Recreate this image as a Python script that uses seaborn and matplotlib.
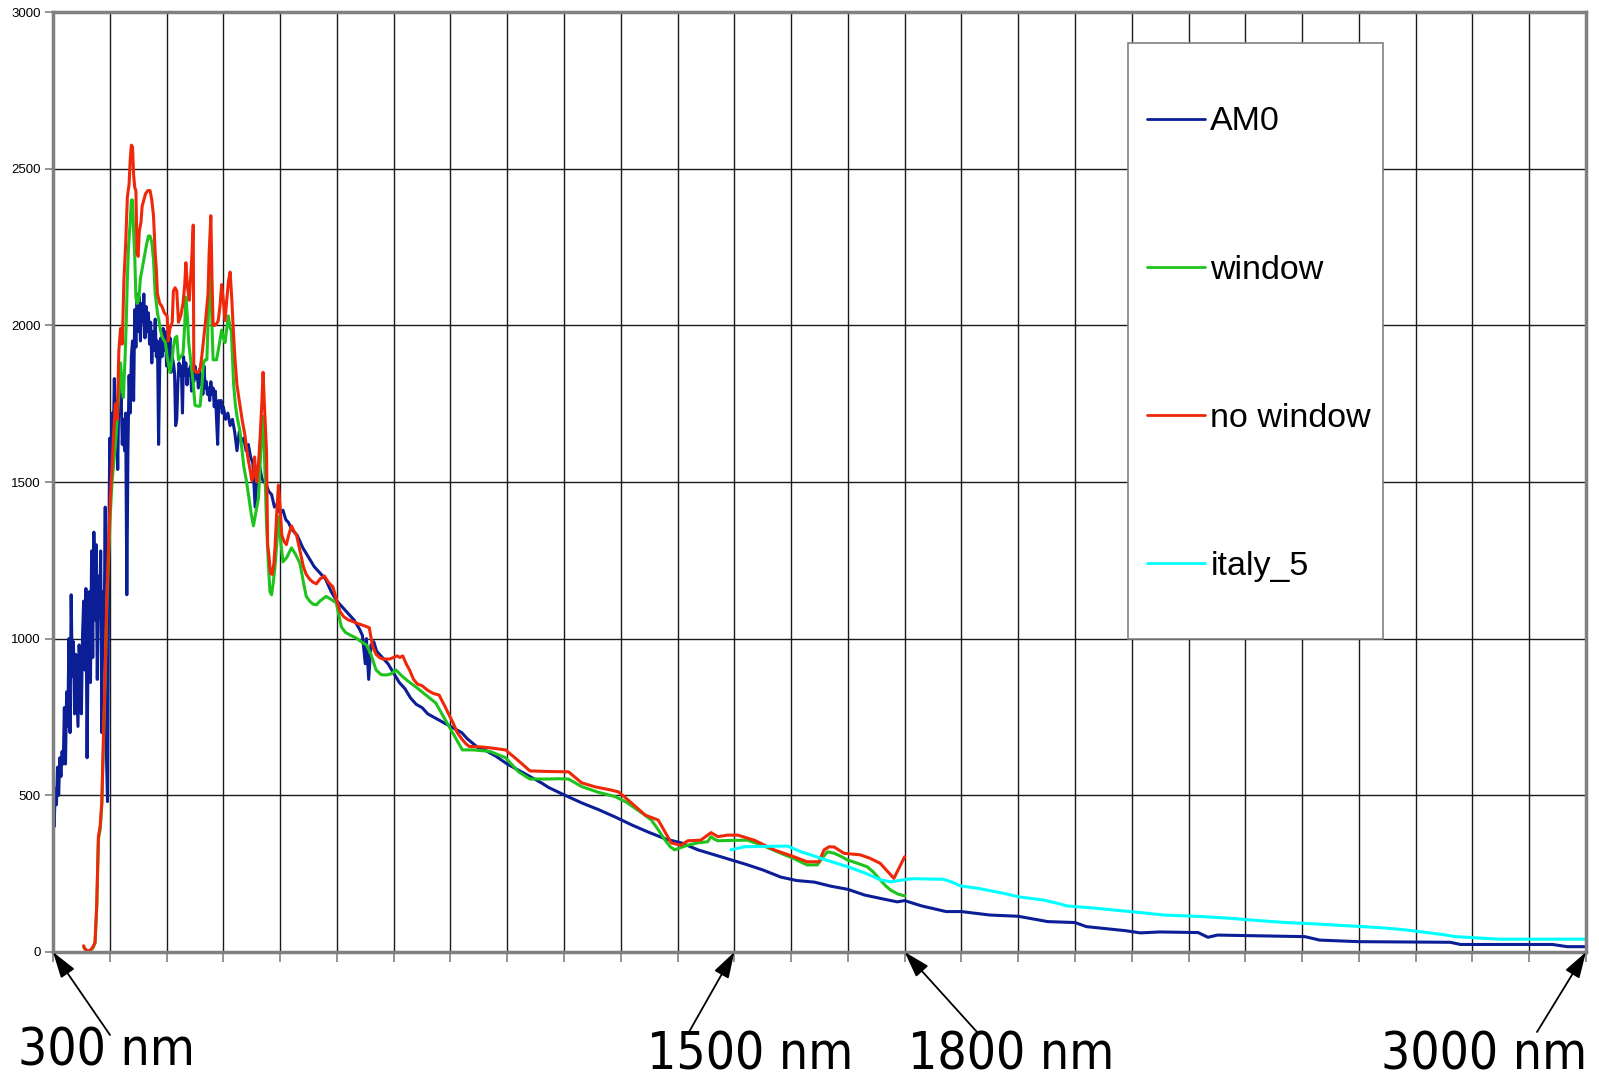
import matplotlib
matplotlib.use("Agg")
import matplotlib.pyplot as plt
from matplotlib.patches import Rectangle
from matplotlib.lines import Line2D
import seaborn as sns
import pandas as pd

# spectra: (wavelength in nm, irradiance)
am0_points = [
    (300, 480), (302, 400), (304, 520), (306, 470), (308, 590), (310, 500), (312, 620), (314, 560),
    (316, 640), (318, 600), (320, 780), (322, 600), (324, 830), (326, 720), (328, 1000), (330, 700),
    (332, 1140), (334, 880), (336, 990), (338, 760), (340, 950), (342, 840), (344, 720), (346, 980),
    (348, 880), (350, 760), (352, 1010), (354, 1120), (356, 900), (358, 1160), (360, 620), (362, 1000),
    (364, 1150), (366, 860), (368, 1280), (370, 940), (372, 1340), (374, 1060), (376, 1300), (378, 870),
    (380, 1200), (382, 1070), (384, 1280), (386, 700), (388, 1150), (390, 1000), (392, 1420), (394, 640),
    (396, 480), (398, 1240), (400, 1640), (402, 1500), (404, 1720), (406, 1600), (408, 1830), (410, 1680),
    (412, 1760), (414, 1540), (416, 1800), (418, 1720), (420, 1780), (422, 1620), (424, 1700), (426, 1600),
    (428, 1720), (430, 1140), (432, 1600), (434, 1840), (436, 1720), (438, 1900), (440, 1950), (442, 1760),
    (444, 2050), (446, 1930), (448, 2100), (450, 1980), (452, 2090), (454, 1950), (456, 2070), (458, 2010),
    (460, 2100), (462, 1960), (464, 2060), (466, 1980), (468, 2040), (470, 1940), (472, 2010), (474, 1880),
    (476, 1980), (478, 1920), (480, 2020), (482, 1900), (484, 1950), (486, 1620), (488, 1880), (490, 1960),
    (492, 1900), (494, 1990), (496, 1920), (498, 1980), (500, 1870), (502, 1930), (504, 1890), (506, 1960),
    (508, 1850), (510, 1900), (512, 1880), (514, 1850), (516, 1680), (518, 1700), (520, 1820), (522, 1880),
    (524, 1840), (526, 1870), (528, 1720), (530, 1900), (532, 1840), (534, 1880), (536, 1810), (538, 1860),
    (540, 1840), (542, 1870), (544, 1790), (546, 1840), (548, 1820), (550, 1870), (552, 1830), (554, 1850),
    (556, 1800), (558, 1860), (560, 1810), (562, 1840), (564, 1780), (566, 1870), (568, 1800), (570, 1820),
    (572, 1780), (574, 1800), (576, 1760), (578, 1820), (580, 1780), (582, 1800), (584, 1740), (586, 1790),
    (588, 1700), (590, 1620), (592, 1760), (594, 1740), (596, 1760), (598, 1720), (600, 1740), (604, 1700),
    (608, 1720), (612, 1680), (616, 1700), (620, 1660), (624, 1600), (628, 1660), (632, 1630), (636, 1640),
    (640, 1600), (644, 1620), (648, 1580), (652, 1560), (656, 1420), (660, 1540), (664, 1550), (668, 1510),
    (672, 1500), (676, 1490), (680, 1470), (685, 1460), (690, 1420), (695, 1430), (700, 1400), (705, 1410),
    (710, 1380), (715, 1370), (720, 1350), (725, 1340), (730, 1330), (740, 1290), (750, 1260), (760, 1230),
    (770, 1210), (780, 1190), (790, 1150), (800, 1120), (810, 1100), (820, 1080), (830, 1060), (840, 1030),
    (845, 1010), (850, 920), (852, 1000), (856, 870), (860, 980), (865, 990), (870, 960), (880, 940),
    (890, 920), (900, 890), (910, 860), (920, 840), (930, 810), (940, 790), (950, 780), (960, 760),
    (970, 750), (980, 740), (990, 730), (1000, 720), (1010, 710), (1020, 700), (1030, 680), (1040, 665),
    (1050, 650), (1060, 645), (1080, 625), (1100, 600), (1120, 580), (1140, 560), (1160, 540), (1173, 525),
    (1196, 505), (1231, 476), (1260, 455), (1290, 431), (1320, 405), (1348, 383), (1380, 360), (1407, 348),
    (1436, 326), (1465, 310), (1494, 294), (1520, 280), (1550, 262), (1582, 239), (1610, 228), (1641, 223),
    (1670, 210), (1700, 200), (1729, 182), (1760, 170), (1787, 160), (1800, 164), (1830, 147), (1873, 129),
    (1900, 129), (1950, 118), (2000, 114), (2052, 97), (2100, 94), (2120, 81), (2189, 68), (2215, 61),
    (2249, 64), (2317, 62), (2334, 47), (2351, 54), (2505, 49), (2531, 38), (2599, 33), (2761, 31),
    (2779, 24), (2941, 24), (2967, 17), (3000, 17),
]

window_points = [
    (354, 15), (358, 8), (362, 3), (366, 5), (370, 12), (374, 28), (377, 140), (380, 360), (383, 390),
    (386, 470), (389, 680), (392, 880), (395, 1120), (398, 1260), (401, 1400), (404, 1500), (407, 1560),
    (410, 1620), (413, 1700), (416, 1780), (419, 1880), (422, 1800), (424, 1770), (427, 1900), (429, 2010),
    (431, 2150), (433, 2250), (436, 2330), (438, 2400), (440, 2400), (442, 2300), (444, 2220), (446, 2090),
    (448, 2070), (451, 2080), (454, 2150), (457, 2180), (461, 2220), (465, 2260), (468, 2285), (471, 2285),
    (474, 2265), (477, 2210), (480, 2100), (484, 2040), (487, 2010), (489, 1985), (493, 1960), (498, 1945),
    (501, 1900), (503, 1880), (506, 1850), (509, 1880), (512, 1930), (515, 1960), (518, 1965), (521, 1890),
    (525, 1900), (529, 1910), (532, 2000), (534, 2090), (537, 2020), (539, 1945), (543, 1880), (547, 1815),
    (550, 1745), (555, 1742), (559, 1742), (562, 1800), (565, 1880), (568, 1890), (571, 1890), (574, 2050),
    (577, 2220), (580, 2000), (582, 1890), (585, 1890), (588, 1890), (592, 1930), (597, 1985), (600, 1960),
    (603, 1945), (606, 1990), (609, 2030), (612, 1990), (614, 1985), (616, 1900), (618, 1815), (621, 1750),
    (624, 1710), (629, 1665), (633, 1600), (636, 1550), (641, 1500), (645, 1450), (649, 1400), (653, 1360),
    (657, 1400), (662, 1450), (666, 1600), (670, 1710), (673, 1550), (676, 1370), (679, 1250), (682, 1150),
    (685, 1140), (688, 1180), (691, 1230), (694, 1300), (697, 1390), (700, 1330), (705, 1245), (712, 1260),
    (720, 1290), (727, 1270), (735, 1240), (741, 1180), (746, 1135), (752, 1120), (758, 1110), (764, 1108),
    (770, 1120), (781, 1135), (790, 1125), (799, 1114), (804, 1070), (808, 1037), (815, 1020), (825, 1010),
    (834, 1002), (843, 990), (852, 980), (860, 950), (869, 900), (878, 885), (887, 884), (896, 888),
    (904, 900), (915, 880), (925, 865), (939, 846), (950, 830), (960, 815), (974, 795), (985, 760),
    (998, 718), (1010, 680), (1021, 645), (1040, 645), (1070, 640), (1097, 620), (1120, 575), (1140, 552),
    (1173, 552), (1190, 553), (1208, 552), (1231, 528), (1260, 510), (1290, 496), (1310, 478), (1325, 459),
    (1340, 440), (1354, 421), (1366, 390), (1378, 357), (1387, 336), (1395, 326), (1405, 333), (1418, 341),
    (1435, 348), (1453, 352), (1459, 368), (1465, 360), (1471, 355), (1490, 356), (1523, 357), (1550, 340),
    (1582, 315), (1605, 298), (1628, 278), (1646, 278), (1655, 300), (1664, 320), (1676, 315), (1688, 305),
    (1699, 294), (1717, 283), (1734, 272), (1745, 255), (1757, 230), (1766, 212), (1775, 198), (1788, 185),
    (1800, 179),
]

no_window_points = [
    (354, 20), (356, 10), (360, 3), (365, 5), (370, 15), (374, 30), (377, 150), (380, 370), (383, 400),
    (386, 480), (389, 700), (392, 900), (395, 1150), (398, 1300), (401, 1450), (404, 1550), (407, 1660),
    (410, 1750), (413, 1700), (416, 1920), (419, 1990), (422, 1940), (425, 2150), (428, 2260), (431, 2410),
    (434, 2450), (436, 2530), (438, 2575), (440, 2570), (442, 2480), (444, 2440), (446, 2430), (448, 2230),
    (450, 2220), (452, 2300), (455, 2330), (457, 2380), (460, 2400), (463, 2420), (467, 2430), (471, 2430),
    (474, 2400), (477, 2350), (480, 2230), (482, 2180), (484, 2100), (488, 2070), (492, 2060), (496, 2040),
    (501, 2030), (503, 1950), (506, 1990), (510, 2010), (512, 2110), (515, 2120), (518, 2110), (521, 2010),
    (525, 2030), (529, 2070), (532, 2130), (534, 2200), (537, 2120), (540, 2080), (544, 2200), (547, 2320),
    (548, 1860), (552, 1850), (556, 1850), (559, 1860), (562, 1900), (565, 1950), (569, 2020), (573, 2100),
    (575, 2230), (578, 2350), (580, 2150), (582, 2000), (585, 2000), (588, 2005), (591, 2015), (594, 2060),
    (597, 2130), (600, 2080), (603, 2015), (606, 2080), (609, 2140), (612, 2170), (615, 2080), (618, 1970),
    (621, 1880), (624, 1810), (628, 1760), (633, 1700), (638, 1650), (643, 1580), (648, 1530), (650, 1505),
    (653, 1520), (655, 1580), (657, 1530), (659, 1500), (662, 1560), (665, 1650), (668, 1760), (670, 1850),
    (672, 1760), (674, 1680), (676, 1600), (678, 1300), (680, 1270), (683, 1210), (686, 1205), (689, 1240),
    (691, 1290), (694, 1400), (697, 1490), (700, 1420), (703, 1330), (707, 1310), (711, 1300), (715, 1330),
    (720, 1360), (724, 1345), (729, 1330), (735, 1280), (741, 1230), (746, 1205), (752, 1190), (758, 1180),
    (764, 1175), (770, 1190), (778, 1200), (785, 1180), (793, 1165), (800, 1120), (806, 1085), (812, 1070),
    (820, 1060), (828, 1055), (834, 1050), (842, 1045), (850, 1040), (857, 1035), (863, 975), (869, 950),
    (875, 940), (881, 935), (887, 935), (893, 935), (900, 940), (906, 945), (911, 940), (916, 945),
    (922, 920), (928, 900), (935, 870), (942, 855), (950, 850), (960, 835), (970, 825), (980, 820),
    (990, 785), (998, 755), (1005, 730), (1012, 700), (1020, 680), (1027, 665), (1033, 656), (1050, 655),
    (1068, 652), (1097, 645), (1120, 610), (1140, 578), (1173, 576), (1208, 575), (1231, 540), (1255, 527),
    (1280, 518), (1296, 511), (1313, 485), (1343, 437), (1366, 421), (1389, 348), (1406, 341), (1418, 355),
    (1441, 357), (1459, 381), (1471, 368), (1488, 373), (1506, 373), (1535, 357), (1570, 326), (1605, 304),
    (1628, 288), (1649, 288), (1658, 326), (1667, 336), (1676, 335), (1693, 315), (1722, 310), (1739, 299),
    (1757, 283), (1781, 235), (1800, 304),
]

italy_5_points = [
    (1494, 326), (1518, 336), (1550, 337), (1594, 338), (1617, 320), (1635, 310), (1652, 299), (1675, 286),
    (1700, 272), (1730, 252), (1758, 230), (1775, 224), (1790, 228), (1800, 231), (1813, 234), (1868, 232),
    (1885, 222), (1898, 211), (1930, 203), (1958, 193), (1980, 185), (2001, 176), (2044, 166), (2070, 155),
    (2086, 147), (2129, 141), (2180, 132), (2220, 125), (2256, 118), (2325, 113), (2370, 108), (2411, 102),
    (2471, 94), (2520, 90), (2556, 86), (2607, 81), (2650, 76), (2685, 70), (2720, 62), (2750, 55),
    (2770, 49), (2847, 41), (2900, 41), (3000, 41),
]

series_names = ["AM0", "window", "no window", "italy_5"]
series_colors = ["#0b1e96", "#1ec31e", "#f0280a", "#00ffff"]
series_points = [am0_points, window_points, no_window_points, italy_5_points]

marker_nm = [300, 1500, 1800, 3000]
marker_labels = ["300 nm", "1500 nm", "1800 nm", "3000 nm"]

y_ticks = [0, 500, 1000, 1500, 2000, 2500, 3000]


def to_frame(points, name):
    df = pd.DataFrame(points, columns=["nm", "value"])
    df["series"] = name
    return df


sns.set_style("white")
plt.rcParams["font.family"] = ["Liberation Sans", "DejaVu Sans"]
plt.rcParams["text.color"] = "black"

W, H = 1599, 1082
fig = plt.figure(figsize=(W / 100, H / 100), dpi=100)
ax = fig.add_axes([53 / W, 1 - 952 / H, (1586 - 53) / W, (952 - 12) / H])

for pts, name, col in zip(series_points, series_names, series_colors):
    sns.lineplot(data=to_frame(pts, name), x="nm", y="value", color=col, lw=2.2,
                 sort=False, estimator=None, legend=False, ax=ax)

ax.set_xlim(300, 3000)
ax.set_ylim(0, 3000)
ax.set_xticks(range(300, 3001, 100))
ax.set_xticklabels([])
ax.set_yticks(y_ticks)
ax.set_yticklabels([str(v) for v in y_ticks])
ax.set_xlabel("")
ax.set_ylabel("")
ax.set_axisbelow(True)
ax.grid(True, color="#1a1a1a", lw=1.0)
ax.tick_params(axis="x", direction="out", length=7, width=1.2, color="#808080", bottom=True)
ax.tick_params(axis="y", direction="out", length=6, width=1.2, color="#808080", left=True,
               labelsize=9.5, labelcolor="black", pad=3)
for sp in ax.spines.values():
    sp.set_color("#808080")
    sp.set_linewidth(2.5)

# legend box like the spreadsheet one
ax.add_patch(Rectangle((0.7013, 0.333), 0.1663, 0.634, transform=ax.transAxes,
                       facecolor="white", edgecolor="#808080", lw=1.2, zorder=5))
handles = [Line2D([], [], color=c, lw=2) for c in series_colors]
leg = ax.legend(handles, series_names, loc="upper left", bbox_to_anchor=(0.7137, 0.8995),
                borderaxespad=0, borderpad=0, frameon=False, fontsize=24.5,
                labelspacing=3.44, handlelength=1.7, handletextpad=0.16, labelcolor="black")
leg.set_zorder(6)

# arrows + big labels under the axis
tails = [(110, 47), (689, 50), (977, 50), (1537, 50)]
text_pos = [(18, 16), (647, 13), (908, 13), (1381, 13)]
for nm, lab, tail, tp in zip(marker_nm, marker_labels, tails, text_pos):
    ax.annotate("", xy=(nm, 0), xycoords="data", xytext=tail, textcoords="figure pixels",
                arrowprops=dict(arrowstyle="-|>,head_length=1.6,head_width=0.5", color="black",
                                lw=1.3, shrinkA=0, shrinkB=0),
                annotation_clip=False)
    fig.text(tp[0] / W, tp[1] / H, lab, family="DejaVu Sans", fontstretch="condensed",
             fontsize=37, va="baseline", ha="left", color="black")

fig.savefig("out.png", dpi=100)
